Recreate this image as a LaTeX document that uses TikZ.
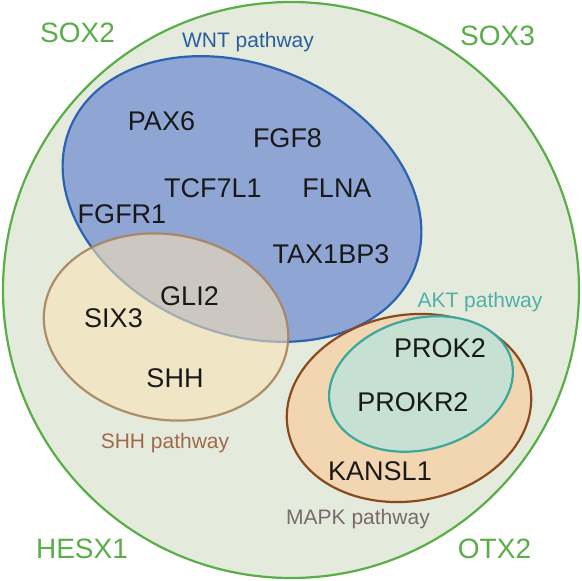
\documentclass[tikz,border=0pt]{standalone}
\usepackage{fontspec}
\setmainfont{Liberation Sans}
\definecolor{outerfill}{HTML}{E4EBDC}
\definecolor{outerline}{HTML}{5AAE48}
\definecolor{wntfill}{HTML}{8FA6D5}
\definecolor{wntline}{HTML}{2D62B0}
\definecolor{wnttext}{HTML}{2B5E9E}
\definecolor{shhfill}{HTML}{F9E2B3}
\definecolor{shhline}{HTML}{A9835E}
\definecolor{shhtext}{HTML}{A2684C}
\definecolor{mapkfill}{HTML}{F2D5B1}
\definecolor{mapkline}{HTML}{8A4A1E}
\definecolor{mapktext}{HTML}{786A6E}
\definecolor{aktfill}{HTML}{C6E0D3}
\definecolor{aktline}{HTML}{3CA89D}
\definecolor{akttext}{HTML}{4FB0AA}
\tikzset{
  gene/.style={anchor=base, inner sep=0pt, text=black!90, font=\fontsize{27}{30}\selectfont},
  tf/.style={anchor=base, inner sep=0pt, text=outerline, font=\fontsize{28}{31}\selectfont},
  pathlabel/.style={anchor=base, inner sep=0pt, font=\fontsize{21}{24}\selectfont},
  setline/.style={line width=2.2pt}
}
\begin{document}
\begin{tikzpicture}[x=1pt, y=-1pt]
\useasboundingbox (0,0) rectangle (582,581);
\fill[white] (0,0) rectangle (582,581);
% outer circle
\draw[setline, draw=outerline, fill=outerfill] (291,290) circle [radius=288];
% WNT
\begin{scope}[shift={(242,199)}, rotate=-22.5]
  \draw[setline, draw=wntline, fill=wntfill] (0,0) ellipse [x radius=186, y radius=134];
\end{scope}
% SHH
\begin{scope}[shift={(166,327)}, rotate=-10]
  \draw[setline, draw=shhline, fill=shhfill, fill opacity=0.58, draw opacity=0.9] (0,0) ellipse [x radius=123, y radius=92.5];
\end{scope}
% MAPK
\begin{scope}[shift={(409,408)}, rotate=10]
  \draw[setline, draw=mapkline, fill=mapkfill] (0,0) ellipse [x radius=123, y radius=93];
\end{scope}
% AKT
\begin{scope}[shift={(421,384)}, rotate=15]
  \draw[setline, draw=aktline, fill=aktfill] (0,0) ellipse [x radius=93.5, y radius=65.5];
\end{scope}
% labels
\node[tf] (sox2) at (77.5,42) {SOX2};
\node[tf] (sox3) at (497.5,45) {SOX3};
\node[tf] (hesx1) at (82,558) {HESX1};
\node[tf] (otx2) at (494.5,558) {OTX2};
\node[pathlabel, text=wnttext] (wntl) at (248,47) {WNT pathway};
\node[pathlabel, text=shhtext] (shhl) at (165,448) {SHH pathway};
\node[pathlabel, text=akttext] (aktl) at (480,307) {AKT pathway};
\node[pathlabel, text=mapktext] (mapkl) at (358,524) {MAPK pathway};
% genes
\node[gene] (pax6) at (161.5,130) {PAX6};
\node[gene] (fgf8) at (287.5,147) {FGF8};
\node[gene] (tcf) at (213,197) {TCF7L1};
\node[gene] (flna) at (337,197) {FLNA};
\node[gene] (fgfr1) at (122,223) {FGFR1};
\node[gene] (tax) at (331,263) {TAX1BP3};
\node[gene] (gli2) at (189.5,305) {GLI2};
\node[gene] (six3) at (113.5,327) {SIX3};
\node[gene] (shh) at (175,387) {SHH};
\node[gene] (prok2) at (440,357) {PROK2};
\node[gene] (prokr2) at (413,411) {PROKR2};
\node[gene] (kansl1) at (380,480) {KANSL1};
\end{tikzpicture}
\end{document}
